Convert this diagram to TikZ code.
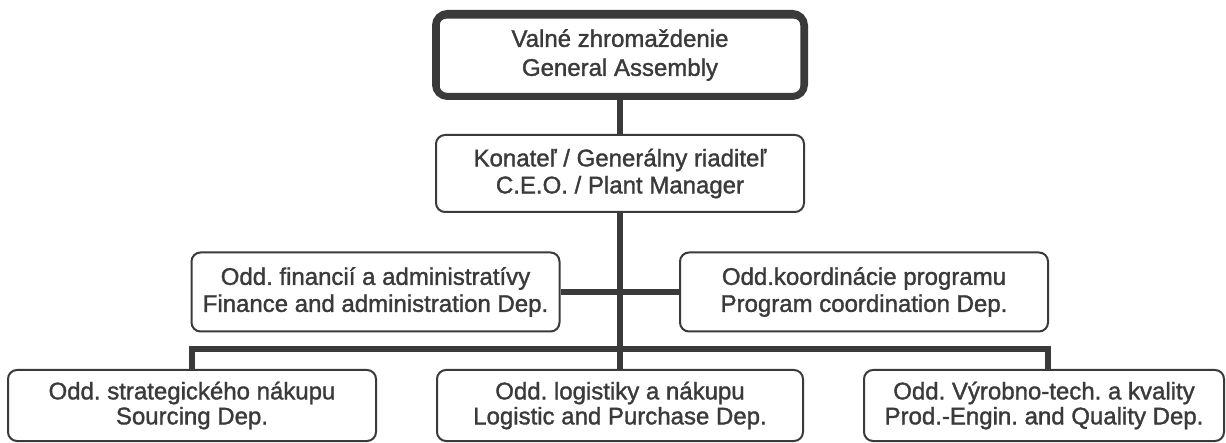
\documentclass[tikz,border=0pt]{standalone}
\usepackage{fontspec}
\setmainfont[FakeBold=1.4]{Liberation Sans}
\definecolor{ink}{HTML}{3A3A3A}
\tikzset{
  box/.style={draw=ink, line width=2pt, rounded corners=9pt, minimum width=368pt,
    minimum height=79pt, align=center, text=ink, inner sep=0pt,
    font=\fontsize{24}{27}\selectfont\frenchspacing},
  topbox/.style={box, line width=7pt, rounded corners=12pt, minimum width=369pt,
    minimum height=83pt, font=\fontsize{24}{29}\selectfont\frenchspacing},
  innerline/.style={draw=ink, line width=1.5pt, rounded corners=7pt},
  conn/.style={draw=ink, line width=6pt},
}
\begin{document}
\begin{tikzpicture}[x=1pt,y=-1pt]
\useasboundingbox (0,0) rectangle (1226,443);
% boxes
\node[topbox] (ga) at (620,55) {Valné zhromaždenie\\General Assembly};
\draw[innerline] ([shift={(7,8)}]ga.north west) rectangle ([shift={(-7,-6)}]ga.south east);
\node[box, minimum height=77pt] (ceo) at (620,173.5) {\raisebox{3pt}{Konateľ / Generálny riaditeľ}\\\raisebox{3pt}{C.E.O. / Plant Manager}};
\node[box] (fin) at (375.5,292) {\raisebox{3pt}{Odd. financií a administratívy}\\\raisebox{3pt}{Finance and administration Dep.}};
\node[box] (prog) at (864,292) {\raisebox{3pt}{Odd.koordinácie programu}\\\raisebox{3pt}{Program coordination Dep.}};
\node[box, minimum height=71pt, font=\fontsize{24}{25}\selectfont\frenchspacing] (src) at (192,405.5) {Odd. strategického nákupu\\Sourcing Dep.};
\node[box, minimum height=71pt, minimum width=366pt, font=\fontsize{24}{25}\selectfont\frenchspacing] (log) at (620,405.5) {Odd. logistiky a nákupu\\Logistic and Purchase Dep.};
\node[box, minimum height=71pt, minimum width=360pt, font=\fontsize{24}{25}\selectfont\frenchspacing] (qual) at (1044,405.5) {Odd. Výrobno-tech. a kvality\\Prod.-Engin. and Quality Dep.};
% connectors
\draw[conn] (ga.south) -- (ceo.north);
\draw[conn] (ceo.south) -- (log.north);
\draw[conn] (fin.east) -- (prog.west);
\draw[conn] (src.north) -- ++(0,-20) -| ([xshift=4pt]qual.north);
\end{tikzpicture}
\end{document}
